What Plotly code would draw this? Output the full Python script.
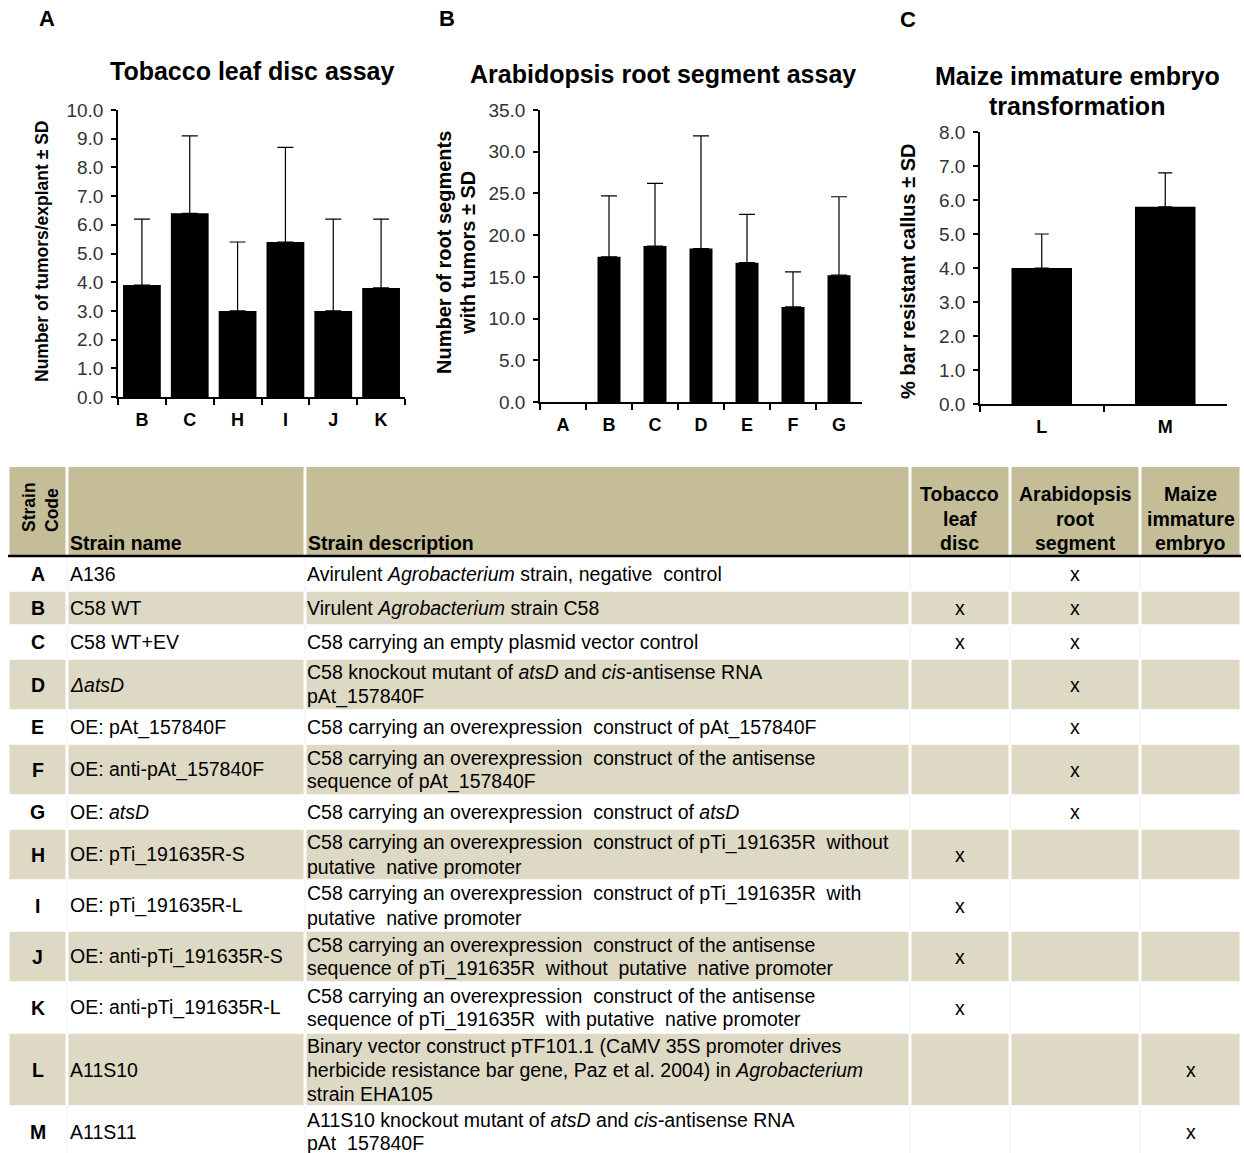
import plotly.graph_objects as go

W, H = 1244, 1153

# ---------------- data ----------------
# Panel A: Tobacco leaf disc assay
tobacco_strains = ["B", "C", "H", "I", "J", "K"]
tobacco_mean = [3.9, 6.4, 3.0, 5.4, 3.0, 3.8]
tobacco_sd = [2.3, 2.7, 2.4, 3.3, 3.2, 2.4]

# Panel B: Arabidopsis root segment assay
arabidopsis_strains = ["A", "B", "C", "D", "E", "F", "G"]
arabidopsis_mean = [0.0, 17.4, 18.7, 18.4, 16.7, 11.4, 15.2]
arabidopsis_sd = [None, 7.3, 7.5, 13.5, 5.8, 4.2, 9.4]

# Panel C: Maize immature embryo transformation
maize_strains = ["L", "M"]
maize_mean = [4.0, 5.8]
maize_sd = [1.0, 1.0]

panel_letters = ["A", "B", "C"]
panel_titles = ["Tobacco leaf disc assay", "Arabidopsis root segment assay",
                "Maize immature embryo<br>transformation"]
y_titles = ["Number of tumors/explant ± SD",
            "Number of root segments<br>with tumors ± SD",
            "% bar resistant callus ± SD"]

# Table
header_labels = ["Strain<br>Code", "Strain name", "Strain description",
                 "Tobacco<br>leaf<br>disc", "Arabidopsis<br>root<br>segment",
                 "Maize<br>immature<br>embryo"]
strain_codes = ["A", "B", "C", "D", "E", "F", "G", "H", "I", "J", "K", "L", "M"]
strain_names = ["A136", "C58 WT", "C58 WT+EV", "<i>ΔatsD</i>", "OE: pAt_157840F",
                "OE: anti-pAt_157840F", "OE: <i>atsD</i>", "OE: pTi_191635R-S",
                "OE: pTi_191635R-L", "OE: anti-pTi_191635R-S", "OE: anti-pTi_191635R-L",
                "A11S10", "A11S11"]
strain_descriptions = [
    "Avirulent <i>Agrobacterium</i> strain, negative  control",
    "Virulent <i>Agrobacterium</i> strain C58",
    "C58 carrying an empty plasmid vector control",
    "C58 knockout mutant of <i>atsD</i> and <i>cis</i>-antisense RNA<br>pAt_157840F",
    "C58 carrying an overexpression  construct of pAt_157840F",
    "C58 carrying an overexpression  construct of the antisense<br>sequence of pAt_157840F",
    "C58 carrying an overexpression  construct of <i>atsD</i>",
    "C58 carrying an overexpression  construct of pTi_191635R  without<br>putative  native promoter",
    "C58 carrying an overexpression  construct of pTi_191635R  with<br>putative  native promoter",
    "C58 carrying an overexpression  construct of the antisense<br>sequence of pTi_191635R  without  putative  native promoter",
    "C58 carrying an overexpression  construct of the antisense<br>sequence of pTi_191635R  with putative  native promoter",
    "Binary vector construct pTF101.1 (CaMV 35S promoter drives<br>herbicide resistance bar gene, Paz et al. 2004) in <i>Agrobacterium</i><br>strain EHA105",
    "A11S10 knockout mutant of <i>atsD</i> and <i>cis</i>-antisense RNA<br>pAt_157840F",
]
mark_symbol = "x"

# ---------------- helpers / styles ----------------
FONT = "Liberation Sans, Arial, sans-serif"


def fx(px):
    return px / W


def fy(py):
    return 1 - py / H


def nb(s):
    return s.replace("  ", " \u00a0")


fig = go.Figure()

panels = [
    dict(cats=tobacco_strains, mean=tobacco_mean, sd=tobacco_sd, xa="x", ya="y",
         xdom=(118, 405), ydom=(397, 110), yr=(0, 10), dtick=1, bw=0.79, cap=8),
    dict(cats=arabidopsis_strains, mean=arabidopsis_mean, sd=arabidopsis_sd, xa="x2", ya="y2",
         xdom=(540, 862), ydom=(402, 110), yr=(0, 35), dtick=5, bw=0.5, cap=8),
    dict(cats=maize_strains, mean=maize_mean, sd=maize_sd, xa="x3", ya="y3",
         xdom=(980, 1227), ydom=(404, 132), yr=(0, 8), dtick=1, bw=0.49, cap=7),
]

layout_axes = {}
for i, p in enumerate(panels):
    sfx = "" if i == 0 else str(i + 1)
    # strains without an SD (zero result) get no bar/error mark drawn
    yvals = [m if s is not None else None for m, s in zip(p["mean"], p["sd"])]
    fig.add_trace(go.Bar(
        x=p["cats"], y=yvals, width=p["bw"], xaxis=p["xa"], yaxis=p["ya"],
        marker=dict(color="black", line=dict(width=0)),
        error_y=dict(type="data", symmetric=False, array=p["sd"],
                     arrayminus=[0 if s is not None else None for s in p["sd"]],
                     color="black", thickness=1.2, width=p["cap"]),
        showlegend=False, hoverinfo="skip"))
    layout_axes["xaxis" + sfx] = dict(
        domain=[fx(p["xdom"][0]), fx(p["xdom"][1])], anchor=p["ya"],
        type="category", categoryorder="array", categoryarray=p["cats"],
        range=[-0.5, len(p["cats"]) - 0.5], automargin=False,
        showline=True, linecolor="black", linewidth=1.6, mirror=False,
        ticks="outside", tickson="boundaries", ticklen=6, tickwidth=1.5, tickcolor="black",
        tickfont=dict(family=FONT, size=18, color="black", weight="bold"),
        ticklabelstandoff=6, showgrid=False, zeroline=False, fixedrange=True)
    layout_axes["yaxis" + sfx] = dict(
        domain=[fy(p["ydom"][0]), fy(p["ydom"][1])], anchor=p["xa"],
        range=list(p["yr"]), dtick=p["dtick"], tick0=0, tickformat=".1f", automargin=False,
        showline=True, linecolor="black", linewidth=1.6,
        ticks="outside", ticklen=5, tickwidth=1.5, tickcolor="black",
        tickfont=dict(family=FONT, size=19, color="#333333"),
        ticklabelstandoff=4, showgrid=False, zeroline=False, fixedrange=True)

annotations = []


def ann(text, x, y, size, bold=False, xanchor="center", yanchor="middle", angle=0,
        align="center", color="black"):
    annotations.append(dict(
        text=text, x=fx(x), y=fy(y), xref="paper", yref="paper", showarrow=False,
        xanchor=xanchor, yanchor=yanchor, textangle=angle, align=align,
        font=dict(family=FONT, size=size, color=color, weight="bold" if bold else "normal")))


# panel letters
for letter, (px, py) in zip(panel_letters, [(47, 19), (447, 19), (908, 20)]):
    ann(letter, px, py, 22, bold=True)

# titles
ann(panel_titles[0], 252, 71, 25, bold=True)
ann(panel_titles[1], 663, 74, 25, bold=True)
for k, line in enumerate(panel_titles[2].split("<br>")):
    ann(line, 1077, 76 + 30 * k, 25, bold=True)

# y-axis titles
ann(y_titles[0], 42, 252, 17.5, bold=True, angle=-90)
for k, line in enumerate(y_titles[1].split("<br>")):
    ann(line, 444 + 24 * k, 253, 20, bold=True, angle=-90)
ann(y_titles[2], 908, 271, 20, bold=True, angle=-90)

# ---------------- table ----------------
COL = [8, 67, 305, 910, 1010, 1140, 1241]
HEAD_TOP, HEAD_BOT = 467, 555
ROW_TOP = 557
ROW_H = {1: 34, 2: 51, 3: 73}
LINE = 24
HEADER_FILL = "#c4bd97"
ROW_FILL = "#ddd9c4"
TXT = 19.5
GAP = 1.5

shapes = []


def rect(x0, y0, x1, y1, fill):
    shapes.append(dict(type="rect", xref="paper", yref="paper",
                       x0=fx(x0), x1=fx(x1), y0=fy(y1), y1=fy(y0),
                       fillcolor=fill, line=dict(width=0), layer="below"))


# header cells
for c in range(6):
    rect(COL[c] + GAP, HEAD_TOP, COL[c + 1] - GAP, HEAD_BOT, HEADER_FILL)

# header text
ann("<b>" + header_labels[0] + "</b>", 41, 507, 17.5, angle=-90, align="left")
for c in range(1, 6):
    lines = header_labels[c].split("<br>")
    n = len(lines)
    for k, line in enumerate(lines):
        yy = 543 - (n - 1 - k) * 24.5
        if c <= 2:
            ann(line, COL[c] + 1, yy, TXT, bold=True, xanchor="left")
        else:
            ann(line, (COL[c] + COL[c + 1]) / 2, yy, TXT, bold=True)

# thick rule under header
shapes.append(dict(type="line", xref="paper", yref="paper", x0=fx(8), x1=fx(1241),
                   y0=fy(556), y1=fy(556), line=dict(color="black", width=2.5)))

assay_sets = [set(tobacco_strains), set(arabidopsis_strains), set(maize_strains)]

y = ROW_TOP
for r, code in enumerate(strain_codes):
    lines = strain_descriptions[r].split("<br>")
    n = len(lines)
    h = ROW_H[n]
    yc = y + h / 2
    if r % 2 == 1:
        for c in range(6):
            rect(COL[c] + GAP, y + GAP / 2, COL[c + 1] - GAP, y + h - GAP / 2, ROW_FILL)
    else:
        for c in range(1, 6):
            shapes.append(dict(type="line", xref="paper", yref="paper",
                               x0=fx(COL[c]), x1=fx(COL[c]), y0=fy(y), y1=fy(y + h),
                               line=dict(color="#f0f0f0", width=1), layer="below"))
    ann(code, (COL[0] + COL[1]) / 2, yc, TXT, bold=True)
    ann(nb(strain_names[r]), COL[1] + 1, yc, TXT, xanchor="left")
    for k, line in enumerate(lines):
        ann(nb(line), COL[2] + 0, yc + (k - (n - 1) / 2) * LINE, TXT, xanchor="left")
    for a, s in enumerate(assay_sets):
        if code in s:
            ann(mark_symbol, (COL[3 + a] + COL[4 + a]) / 2, yc, TXT)
    y += h

fig.update_layout(
    width=W, height=H, margin=dict(l=0, r=0, t=0, b=0, pad=0, autoexpand=False),
    paper_bgcolor="white", plot_bgcolor="rgba(0,0,0,0)",
    font=dict(family=FONT), bargap=0.2,
    annotations=annotations, shapes=shapes, **layout_axes)

fig.write_html(
    "out.html",
    config={"displayModeBar": False, "responsive": False},
    post_script="document.body.style.margin='0px';document.body.style.overflow='hidden';")
